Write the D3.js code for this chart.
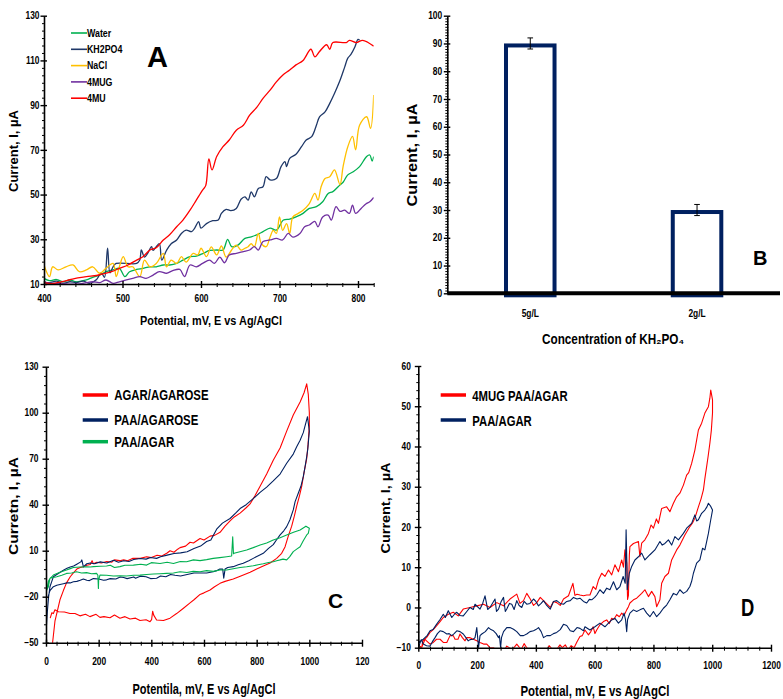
<!DOCTYPE html>
<html>
<head>
<meta charset="utf-8">
<script src="https://cdn.jsdelivr.net/npm/d3@7"></script>
<style>
  body { margin: 0; background: #fff; }
  svg { display: block; }
  text { font-family: "Liberation Sans Narrow", "Arial Narrow", "Liberation Sans", Arial, sans-serif; font-weight: bold; fill: #000; }
  .wide { font-family: "Liberation Sans", Arial, sans-serif; }
</style>
</head>
<body>
<svg id="chart" width="783" height="699"></svg>
<script>
// ---------- Panel A: linear sweeps, Potential (mV) vs Current (µA) ----------
const seriesNamesA = ["Water", "KH2PO4", "NaCl", "4MUG", "4MU"];
const waterA = [[400,12.5],[407,11.5],[416,12],[424,11],[433,11.8],[441,11],[454,11.8],[462,13],[471,14],[479,15.5],[488,16.3],[496,17],[503,13.3],[509,15.5],[518,16.5],[526,17],[535,17.7],[543,17.7],[552,18.5],[560,18.5],[569,19.2],[577,20.7],[586,22.2],[594,22.5],[603,23.7],[611,25],[620,25.2],[628,25.2],[634,30],[639,26.7],[647,27.4],[656,30.4],[664,31.1],[671,32],[679,33.4],[688,35],[696,34.1],[705,38.6],[713,39],[721,40],[730,41.6],[738,43.8],[747,44.6],[755,46.8],[762,50.5],[768,51.3],[777,54.3],[781,55.5],[787,58.8],[794,60.2],[802,62.5],[811,67],[815,67.7],[818,65],[820,67]];
const kh2po4A = [[400,11],[407,10.6],[416,11.3],[424,10.3],[433,11],[441,10.6],[450,11.3],[458,10.3],[467,12],[473,15],[477,13],[481,26],[484,15],[488,17.7],[492,19.2],[518,19.2],[522,20.7],[524,25.2],[528,22],[532,23.7],[537,26.7],[539,25],[543,26.7],[547,28],[550,20.7],[556,25],[562,28],[569,29.7],[575,32.6],[581,34.1],[588,33.4],[592,35],[597,37.9],[600,35],[607,37],[615,38.3],[622,38.6],[626,41.6],[632,43.4],[638,42.8],[645,43.8],[651,47.9],[656,49],[660,47.5],[664,51.2],[668,49],[673,52.7],[679,53.5],[683,58],[688,56.6],[696,57.2],[702,62.5],[707,64.7],[709,62.5],[713,66.2],[721,68],[728,71.4],[734,74.4],[741,75.9],[747,81],[751,84.8],[758,87],[764,90.8],[770,95.2],[777,101],[783,107],[787,111],[791,112.7],[796,116],[800,119.4],[802,119]];
const naclA = [[400,18.5],[407,13.3],[411,17.7],[418,16.3],[428,17.7],[437,18.5],[445,15.5],[454,16.3],[462,17.7],[471,14.8],[479,17],[488,19.2],[492,13.3],[496,17.7],[501,22.2],[507,17.7],[513,17.7],[522,13.3],[528,20.7],[535,17.7],[543,19.2],[552,23.7],[556,17.7],[562,20.7],[569,19.2],[575,22.2],[581,19.8],[590,23.7],[596,23],[600,26],[607,22.2],[613,26.6],[620,23],[626,27],[632,22],[639,25.2],[645,27.4],[651,25.2],[656,26],[660,26.7],[664,28],[668,26.7],[673,32.6],[677,28],[683,26.7],[688,31],[692,34],[696,32.6],[700,40],[704,34],[709,37],[713,32.6],[717,40],[724,41.6],[730,43],[738,46],[745,50.5],[749,47.5],[753,53.5],[758,57.2],[764,58],[770,61],[777,54.5],[781,62.5],[787,71.4],[793,76],[797,70],[802,81],[811,84.8],[816,79.6],[820,94.5]];
const mugA = [[400,10.6],[412,10.3],[428,10],[445,10],[454,10.6],[462,11],[471,10.6],[479,11.8],[488,10.3],[496,11],[505,11.8],[513,12.5],[522,13.3],[530,12.5],[539,14],[547,15.5],[556,14.8],[564,16],[573,16.5],[579,13.3],[586,18.5],[594,17.7],[602,19.2],[611,20.7],[617,19.2],[624,22],[630,19.5],[636,23],[645,23.7],[654,24.5],[662,25.2],[668,26.7],[673,25.2],[679,29],[688,29.7],[696,30.4],[704,29.7],[711,32.6],[717,31],[726,32.6],[732,35.6],[738,36.4],[745,38],[749,35.6],[755,40],[762,40.8],[766,38.6],[772,44.6],[777,42.5],[783,43],[789,41.6],[793,45.3],[797,41.6],[804,43.8],[810,45.8],[815,46.8],[820,48.7]];
const muA = [[400,10.6],[411,10.2],[422,11],[433,11.9],[443,12.7],[454,13.3],[467,13.8],[475,14.5],[486,15.5],[496,17],[507,18.5],[518,20.7],[526,22.2],[535,25.2],[543,26.2],[552,29.7],[560,32],[569,35.6],[577,38.6],[586,43],[594,47.5],[602,52],[606,54],[610,66],[614,61],[620,67],[628,71.4],[636,74.4],[645,78.8],[654,81],[662,85.5],[671,89],[679,93],[688,96.7],[696,100.4],[704,103.4],[713,105.7],[721,108],[730,110],[740,115],[745,111.6],[751,114],[760,117],[764,115],[768,118],[785,118],[789,119],[798,118],[806,119],[820,116.4]];
const yTicksA = [10, 30, 50, 70, 90, 110, 130];
const xTicksA = [400, 500, 600, 700, 800];

// ---------- Panel B: current by KH2PO4 concentration ----------
const concentrationsB = ["5g/L", "2g/L"];
const currentB = [90, 30];
const errorB = [2, 2];
const yTicksB = [0, 10, 20, 30, 40, 50, 60, 70, 80, 90, 100];

// ---------- Panel C: cyclic voltammograms of the gel pairs ----------
const seriesNamesC = ["AGAR/AGAROSE", "PAA/AGAROSE", "PAA/AGAR"];
const agarAgaroseC = [[18,-58],[25,-50],[34,-36],[45,-28],[53,-22],[66,-16],[78,-11],[92,-7],[104,-4.5],[117,-2],[130,-1],[142,-0.5],[155,0.5],[168,1],[175,3.5],[180,1.5],[193,2.5],[210,2],[231,3],[250,2.5],[260,4],[280,3.5],[295,4],[310,3.5],[330,5],[358,5],[382,6],[400,5.5],[422,7],[440,6.5],[460,8.5],[471,10],[486,9],[500,11],[509,12],[530,13],[547,15.5],[560,15],[585,18],[600,17],[623,19.5],[640,20],[661,22],[680,26],[699,29.5],[715,32],[737,34.5],[760,38],[775,40.5],[794,46],[813,52],[838,60],[863,69],[889,77],[914,88],[939,98.5],[965,107],[980,113],[990,118.8],
  [996,112],[1000,100],[1000,91],[995,79],[990,70],[980,61],[971,52],[962,45.5],[952,39],[943,32.5],[933,26],[920,19.5],[908,12.6],[895,8.3],[876,5],[851,2],[825,0],[800,-2],[775,-4],[740,-6.5],[711,-8.5],[680,-10],[661,-11.3],[640,-13.5],[623,-15.6],[600,-17.5],[585,-18.5],[562,-22],[547,-24],[522,-27.5],[496,-31],[471,-34],[446,-35.5],[420,-35.2],[409,-32],[405,-29.5],[401,-35],[395,-36.3],[380,-35],[357,-35.5],[340,-34],[319,-34.5],[300,-33],[281,-34],[260,-32],[243,-33.7],[220,-33],[205,-33.5],[190,-31.5],[167,-33],[150,-31.5],[129,-32.5],[110,-31],[91,-31],[70,-30],[47,-29.8],[34,-28.5],[28,-31],[22,-30.5],[16,-34]];
const paaAgaroseC = [[0,-44],[5,-30],[10,-20],[15,-13.5],[22,-10],[28,-7],[45,-5],[66,-2.7],[80,-1.5],[92,-0.6],[105,0],[117,1.2],[132,2.7],[136,4],[142,-0.6],[155,1.5],[168,2],[185,1.5],[206,2.7],[231,2],[257,3.8],[275,2.5],[295,3.4],[315,3],[333,4.3],[358,4.9],[380,4.5],[397,5.6],[420,5],[435,6],[460,7.1],[486,8.2],[511,8.6],[536,9.3],[562,11.4],[587,13],[610,16],[626,17],[648,24],[670,28],[699,31],[720,34.5],[737,37.5],[760,40],[787,44],[813,48],[838,51.5],[863,55.5],[889,60],[914,67],[939,73],[952,77.8],[965,82],[977,87],[993,97.4],
  [1000,88],[998,84],[994,76],[990,71.3],[984,65],[977,58.3],[968,52],[958,47.5],[946,42],[939,36.6],[926,30],[914,25.7],[903,23],[889,20.3],[875,17],[863,14],[845,11.5],[825,8.3],[810,7],[787,5],[770,3.5],[749,1.8],[730,0.8],[711,-0.4],[690,-1],[680,-2],[675,-7.9],[671,-2],[660,-2],[648,-3],[635,-3.7],[610,-4.5],[587,-4.5],[562,-4.5],[536,-5.5],[511,-6.5],[490,-6],[473,-5.5],[455,-7],[435,-6.5],[420,-8],[397,-8.2],[380,-7],[358,-6.6],[340,-8],[333,-7.1],[308,-8.2],[295,-7.5],[282,-7.1],[265,-8.5],[244,-8.2],[230,-9],[219,-9.3],[200,-8.5],[180,-8.2],[165,-9.5],[155,-9.3],[142,-8.5],[130,-9.3],[117,-10],[104,-10.3],[92,-11],[79,-11],[66,-11.5],[53,-12],[41,-12.5],[28,-13.5],[15,-16],[8,-20]];
const paaAgarC = [[0,-17],[3,-15.5],[9,-10],[15,-8.2],[28,-5.9],[53,-4],[78,-2.6],[92,-1.7],[104,-1],[130,-0.6],[155,-0.5],[168,-0.6],[180,-0.4],[206,-0.1],[230,0],[244,0.5],[260,-1],[281,-0.4],[300,0.5],[332,0.6],[360,1.2],[382,0.6],[400,2.2],[433,1.7],[460,2.5],[484,1.7],[510,3],[534,2.8],[560,4],[585,3.5],[610,4.2],[635,5],[660,5.5],[686,6.1],[705,6.5],[709,19.1],[712,8],[714,8.3],[740,9.5],[762,10.5],[787,12],[813,13.7],[838,15],[863,17],[889,18.5],[914,20.3],[940,22],[965,23.5],[987,26],[1000,24.6],
  [996,21.3],[990,20.3],[977,16.5],[965,12.6],[952,11],[939,9.4],[925,6],[914,4],[900,4.5],[889,4],[876,3.5],[863,2.8],[845,2.3],[825,1.5],[805,0.8],[787,0.2],[762,-0.5],[737,-1],[711,-1.8],[686,-2.6],[661,-2.6],[635,-3.5],[610,-3],[585,-3.7],[559,-3.5],[535,-4.2],[509,-3.7],[484,-4.5],[458,-4.8],[433,-5],[408,-5.2],[382,-5.5],[357,-5.9],[332,-6],[306,-6.5],[281,-6.3],[256,-6.5],[230,-6],[205,-5.9],[200,-9],[199,-14.6],[197,-6],[192,-4.8],[173,-5],[154,-4.3],[135,-4.5],[116,-3.7],[97,-4.5],[78,-4.8],[60,-6],[41,-7],[28,-7.5],[15,-8],[9,-13.5],[3,-15.7]];
const yTicksC = [-50, -20, 10, 40, 70, 100, 130];
const xTicksC = [0, 200, 400, 600, 800, 1000, 1200];
const xTickLabelsC = ["0", "200", "400", "600", "800", "1000", "120"];

// ---------- Panel D: cyclic voltammograms with and without 4MUG ----------
const seriesNamesD = ["4MUG PAA/AGAR", "PAA/AGAR"];
const mugPaaAgarD = [[11,-10.5],[15,-8.3],[28,-7.5],[40,-6.2],[51,-5.5],[62,-4.6],[74,-3.5],[85,-2.5],[102,-1.7],[119,-1.2],[136,-2.1],[153,-0.4],[176,0],[199,0.4],[222,0.8],[244,0],[267,1.2],[290,0.4],[312,2.1],[335,3.3],[346,1],[358,1.7],[369,3.5],[381,2.1],[392,0.5],[403,1.2],[415,2.5],[426,1.7],[438,0.8],[449,0],[460,1.5],[471,1.2],[483,0.5],[494,2.1],[511,2.9],[526,6],[533,3],[540,3.3],[550,3.1],[562,2.9],[573,3.1],[584,3.1],[595,5.2],[604,4.5],[613,6.8],[624,8.5],[635,7.7],[647,9.3],[658,8.1],[669,10.6],[681,8.9],[692,11.8],[698,10],[703,14.3],[709,11],[712,2],[715,3],[718,13],[720,15.1],[732,15.9],[749,16.4],[754,12.6],[760,16],[771,16.8],[783,18.4],[792,20.5],[800,19.7],[810,22],[817,20.9],[828,24.6],[845,25],[856,23.8],[868,25.9],[879,27.5],[890,28.4],[902,30.4],[913,32.9],[920,33.5],[930,35.8],[941,39.1],[953,44.1],[964,45.8],[975,48.3],[987,49.9],[992,52],[995,54],[1001,51.6],
  [1001,48.3],[997,44],[992,40.8],[986,37.5],[981,35],[975,32],[970,29.2],[962,27],[953,25],[941,22.2],[933,21],[924,20.1],[907,18],[890,15.5],[879,14.3],[870,13],[862,11.8],[851,8.5],[839,7.7],[828,6],[822,1.9],[811,0.2],[805,2.7],[794,4],[783,2.7],[771,4.4],[760,3.5],[743,2.3],[732,1.9],[720,1.1],[715,0.2],[709,-0.6],[700,-2],[692,-1.4],[684,-2.3],[675,-1.8],[665,-3],[658,-2.7],[650,-4],[641,-3.1],[630,-3.5],[618,-4.3],[607,-5.6],[601,-6.5],[595,-4.8],[587,-6],[579,-6.8],[567,-5.6],[558,-7],[550,-7.2],[540,-8.5],[530,-10],[520,-9.5],[510,-10.5],[500,-9.3],[490,-10],[482,-9.3],[470,-10.5],[455,-10.3],[445,-9.5],[437,-11],[420,-12],[405,-11],[395,-12],[369,-10],[360,-9],[350,-10.5],[335,-9.1],[320,-10.5],[301,-9.6],[290,-11],[270,-11],[256,-10],[244,-10],[233,-9.1],[222,-9.1],[210,-8.7],[199,-8.3],[187,-7.9],[176,-7.5],[165,-7.5],[159,-8.3],[150,-7.5],[142,-6.6],[135,-7.9],[125,-7.9],[119,-7],[108,-7],[97,-8.7],[85,-8.7],[74,-7.9],[62,-7.9],[51,-8.7],[40,-9.1],[28,-8.3],[23,-7.9],[11,-10],[6,-9.6]];
const paaAgarD = [[0,-8.7],[17,-7.9],[30,-7],[40,-5.8],[50,-5.5],[62,-4.2],[74,-3],[85,-1.7],[92,-2.5],[102,-0.8],[114,-2.5],[125,-1.5],[131,-1.2],[142,-2],[153,-2.1],[165,-1],[176,0],[187,-0.5],[193,0.8],[210,-0.4],[219,1],[227,2.9],[236,-0.5],[244,0],[252,1],[261,2.1],[266,-1],[273,-0.4],[282,1.5],[290,2.5],[296,-1],[301,-0.4],[310,1],[318,0.8],[326,-0.5],[335,1.7],[343,0.5],[352,0],[360,1.5],[369,0.8],[380,1],[392,2.1],[400,1.5],[409,0.4],[418,1],[426,1.7],[437,0.5],[449,-0.4],[460,1.5],[471,1.7],[483,1],[494,0.8],[505,1.5],[517,1.7],[528,2.5],[540,2.1],[550,2.3],[562,1.5],[573,1.1],[582,2],[590,1.9],[600,2.5],[607,3.1],[618,4.4],[630,3.5],[641,4.8],[652,4.4],[664,6.4],[675,4.4],[686,5.2],[697,7.7],[704,6],[707,19.3],[710,10],[711,4.4],[718,8.5],[726,10.2],[737,11.8],[749,12.6],[760,13.5],[771,11.8],[788,13.1],[805,14.3],[822,16.4],[830,15.5],[839,15.9],[851,16.8],[862,15.5],[873,17.6],[885,16.8],[902,18.4],[913,19.7],[930,20.9],[941,23],[947,21.5],[953,21.8],[964,23.4],[975,24.2],[982,25],[987,25.9],[995,25.1],[1001,24.2],
  [995,21.8],[987,18.4],[980,16],[975,14.3],[967,14.7],[958,11.8],[947,11],[936,8.5],[930,6.5],[924,5.2],[913,4],[902,3.5],[890,4.4],[879,3.1],[868,3.5],[856,1.9],[845,0.6],[834,-0.2],[822,-1.4],[811,-2.3],[800,-1],[788,-2.3],[777,-1.4],[766,-0.2],[754,-0.6],[743,-1],[732,-0.6],[720,-1.4],[712,-3],[709,-6],[705,-3],[700,-1.4],[692,-3.1],[681,-3.9],[669,-2.7],[658,-3.1],[647,-3.9],[635,-4.8],[618,-3.9],[601,-4.8],[584,-5.6],[567,-4.8],[562,-5.8],[550,-5.2],[540,-5],[528,-6],[517,-5.8],[505,-4.5],[494,-4.2],[483,-5.5],[471,-6.2],[460,-6.5],[449,-7],[437,-7],[426,-7.5],[418,-6],[409,-5],[400,-5.5],[392,-5.8],[380,-6],[369,-6.6],[358,-7],[347,-7],[335,-6],[324,-5.4],[312,-5],[301,-5],[290,-6],[283,-7.5],[280,-10],[276,-7],[273,-7.5],[265,-6.5],[256,-5.8],[247,-5.5],[239,-5],[228,-6],[216,-6.6],[210,-7],[205,-10],[199,-5],[193,-7.5],[187,-7.9],[176,-8],[170,-8.3],[162,-7.5],[153,-6.6],[142,-6],[131,-5.8],[122,-6.5],[114,-7],[105,-6.5],[97,-6.6],[85,-6],[74,-5.8],[65,-6.5],[57,-7.5],[48,-8.5],[40,-9.6],[28,-9.5],[17,-9.1],[10,-8],[0,-10]];
const yTicksD = [-10, 0, 10, 20, 30, 40, 50, 60];
const xTicksD = [0, 200, 400, 600, 800, 1000, 1200];

// ---------- styling ----------
const RED = "#ff0000", NAVY = "#1f3868", DARKBLUE = "#002060", GREEN = "#00b050", GOLD = "#ffc000", PURPLE = "#7030a0";
const svg = d3.select("#chart");

function range(a, b, step) { return d3.range(a, b + step / 2, step); }

// condense labels horizontally (the labels use a narrow bold face)
function condense(sel, k) {
  sel.each(function () {
    const w = this.getComputedTextLength();
    if (w > 0) d3.select(this).attr("textLength", w * k).attr("lengthAdjust", "spacingAndGlyphs");
  });
}

function leftAxis(y, x0, majors, minorStep, fs, pad, fmt) {
  const dom = y.domain();
  const minors = range(dom[0], dom[1], minorStep).filter(v => !majors.includes(v));
  svg.append("g").attr("transform", `translate(${x0},0)`)
    .call(d3.axisLeft(y).tickValues(minors).tickSize(2).tickSizeOuter(0).tickFormat(""))
    .call(g => g.select(".domain").remove())
    .call(g => g.selectAll(".tick line").attr("x1", 1).attr("stroke-width", 1));
  svg.append("g").attr("transform", `translate(${x0},0)`).attr("font-size", fs)
    .call(d3.axisLeft(y).tickValues(majors).tickSize(3.5).tickSizeOuter(0).tickPadding(pad).tickFormat(fmt || d3.format("d")))
    .call(g => g.select(".domain").attr("stroke-width", 1.6))
    .call(g => g.selectAll(".tick line").attr("x1", 3).attr("stroke-width", 1.4))
    .call(g => condense(g.selectAll("text"), 0.84));
}

function bottomAxis(x, y0, majors, minorStep, fs, pad, fmt) {
  const dom = x.domain();
  const minors = range(dom[0], dom[1], minorStep).filter(v => !majors.includes(v));
  svg.append("g").attr("transform", `translate(0,${y0})`)
    .call(d3.axisBottom(x).tickValues(minors).tickSize(3).tickSizeOuter(0).tickFormat(""))
    .call(g => g.select(".domain").remove())
    .call(g => g.selectAll(".tick line").attr("y1", -1).attr("stroke-width", 1));
  svg.append("g").attr("transform", `translate(0,${y0})`).attr("font-size", fs)
    .call(d3.axisBottom(x).tickValues(majors).tickSize(4).tickSizeOuter(0).tickPadding(pad).tickFormat(fmt || d3.format("d")))
    .call(g => g.select(".domain").attr("stroke-width", 1.6))
    .call(g => g.selectAll(".tick line").attr("y1", -3).attr("stroke-width", 1.4))
    .call(g => condense(g.selectAll("text"), 0.84));
}

function clipRect(id, x, y) {
  const [x0, x1] = x.range(), [y0, y1] = y.range();
  svg.append("clipPath").attr("id", id).append("rect")
    .attr("x", x0).attr("y", Math.min(y0, y1)).attr("width", x1 - x0).attr("height", Math.abs(y0 - y1));
  return `url(#${id})`;
}

function title(txt, x, y, fs, len, rotate, cls) {
  const t = svg.append("text").text(txt).attr("font-size", fs).attr("text-anchor", "middle");
  if (cls) t.attr("class", cls);
  if (len) t.attr("textLength", len).attr("lengthAdjust", "spacingAndGlyphs");
  if (rotate) t.attr("transform", `translate(${x},${y}) rotate(-90)`);
  else t.attr("x", x).attr("y", y);
  return t;
}

// ---------- Panel A ----------
{
  const x = d3.scaleLinear().domain([400, 820]).range([44, 373.7]);
  const y = d3.scaleLinear().domain([10, 130]).range([284, 15.7]);
  const clip = clipRect("clipA", x, y);
  const line = d3.line().x(d => x(d[0])).y(d => y(d[1])).curve(d3.curveCatmullRom.alpha(0.5));
  const data = [waterA, kh2po4A, naclA, mugA, muA];
  const colors = [GREEN, NAVY, GOLD, PURPLE, RED];
  svg.append("g").attr("clip-path", clip).selectAll("path").data(data).join("path")
    .attr("d", line).attr("fill", "none").attr("stroke", (d, i) => colors[i]).attr("stroke-width", 1.3);
  leftAxis(y, 44, yTicksA, 20 / 6, 11, 1);
  bottomAxis(x, 284, xTicksA, 20, 11, 7);
  // legend
  const lg = svg.append("g").selectAll("g").data(seriesNamesA).join("g")
    .attr("transform", (d, i) => `translate(71,${33 + i * 16.3})`);
  lg.append("line").attr("x1", 0).attr("x2", 16).attr("stroke", (d, i) => colors[i]).attr("stroke-width", 1.6);
  lg.append("text").attr("x", 16).attr("y", 3.7).attr("font-size", 10.5).text(d => d)
    .call(s => condense(s, 0.84));
  svg.append("text").attr("class", "wide").attr("x", 157.5).attr("y", 67).attr("text-anchor", "middle").attr("font-size", 29).text("A");
  title("Potential, mV, E vs Ag/AgCl", 211, 325, 12.5, 142);
  title("Current, I, µA", 17.5, 151, 12, 82, true, "wide");
}

// ---------- Panel B ----------
{
  const x = d3.scaleBand().domain(concentrationsB).range([447.3, 780]).paddingInner(0.685).paddingOuter(0.34);
  const y = d3.scaleLinear().domain([0, 100]).range([293.3, 15.7]);
  const sw = 4;
  svg.append("g").selectAll("rect").data(currentB).join("rect")
    .attr("x", (d, i) => x(concentrationsB[i]) + sw / 2).attr("width", x.bandwidth() - sw)
    .attr("y", d => y(d) + sw / 2).attr("height", d => y(0) - y(d))
    .attr("fill", "#fff").attr("stroke", DARKBLUE).attr("stroke-width", sw);
  const eb = svg.append("g").selectAll("g").data(currentB).join("g")
    .attr("transform", (d, i) => `translate(${x(concentrationsB[i]) + x.bandwidth() / 2},0)`);
  eb.append("line").attr("y1", (d, i) => y(d + errorB[i])).attr("y2", (d, i) => y(d - errorB[i])).attr("stroke", "#000").attr("stroke-width", 1);
  eb.append("line").attr("x1", -2.8).attr("x2", 2.8).attr("y1", (d, i) => y(d + errorB[i])).attr("y2", (d, i) => y(d + errorB[i])).attr("stroke", "#000").attr("stroke-width", 1);
  eb.append("line").attr("x1", -2.8).attr("x2", 2.8).attr("y1", (d, i) => y(d - errorB[i])).attr("y2", (d, i) => y(d - errorB[i])).attr("stroke", "#000").attr("stroke-width", 1);
  leftAxis(y, 447.3, yTicksB, 1, 11, 1.6);
  svg.append("g").attr("transform", `translate(0,${y(0)})`).attr("font-size", 10.5)
    .call(d3.axisBottom(x).tickSize(0).tickSizeOuter(0).tickPadding(17))
    .call(g => g.select(".domain").attr("stroke-width", 4).attr("d", `M${x.range()[0]},0H${x.range()[1]}`))
    .call(g => condense(g.selectAll("text"), 0.84));
  svg.append("text").attr("class", "wide").attr("x", 753).attr("y", 265).attr("font-size", 20).text("B");
  title("Concentration of KH₂PO₄", 613, 344, 14, 142);
  title("Current,  I, µA", 417, 155, 14, 103, true, "wide");
}

// ---------- Panel C ----------
{
  const x = d3.scaleLinear().domain([0, 1200]).range([46, 362]);
  const y = d3.scaleLinear().domain([-50, 130]).range([642.7, 366.7]);
  const clip = clipRect("clipC", x, y);
  const line = d3.line().x(d => x(d[0])).y(d => y(d[1]));
  const data = [agarAgaroseC, paaAgaroseC, paaAgarC];
  const colors = [RED, DARKBLUE, GREEN];
  svg.append("g").attr("clip-path", clip).selectAll("path").data(data).join("path")
    .attr("d", line).attr("fill", "none").attr("stroke", (d, i) => colors[i]).attr("stroke-width", 1.1).attr("stroke-linejoin", "round");
  leftAxis(y, 46, yTicksC, 6, 12, 4);
  bottomAxis(x, 642.7, xTicksC, 40, 12, 11, (d, i) => xTickLabelsC[i]);
  const ly = [395, 420, 441.7];
  const lg = svg.append("g").selectAll("g").data(seriesNamesC).join("g")
    .attr("transform", (d, i) => `translate(82.7,${ly[i]})`);
  lg.append("line").attr("x1", 0).attr("x2", 25.3).attr("stroke", (d, i) => colors[i]).attr("stroke-width", 3.5);
  lg.append("text").attr("x", 31.5).attr("y", 5.2).attr("font-size", 15).text(d => d)
    .call(s => condense(s, 0.76));
  svg.append("text").attr("class", "wide").attr("x", 328).attr("y", 608.3).attr("font-size", 21).text("C");
  title("Potentila, mV, E vs Ag/AgCl", 204, 694, 15, 143);
  title("Curretn, I, µA", 17.5, 506, 13, 98, true, "wide");
}

// ---------- Panel D ----------
{
  const x = d3.scaleLinear().domain([0, 1200]).range([418.3, 771]);
  const y = d3.scaleLinear().domain([-10, 60]).range([647.7, 366]);
  const clip = clipRect("clipD", x, y);
  const line = d3.line().x(d => x(d[0])).y(d => y(d[1]));
  const data = [mugPaaAgarD, paaAgarD];
  const colors = [RED, DARKBLUE];
  svg.append("g").attr("clip-path", clip).selectAll("path").data(data).join("path")
    .attr("d", line).attr("fill", "none").attr("stroke", (d, i) => colors[i]).attr("stroke-width", 1.1).attr("stroke-linejoin", "round");
  leftAxis(y, 418.3, yTicksD, 2, 12, 4);
  bottomAxis(x, 647.7, xTicksD, 40, 12, 10);
  const ly = [395, 420];
  const lg = svg.append("g").selectAll("g").data(seriesNamesD).join("g")
    .attr("transform", (d, i) => `translate(440.7,${ly[i]})`);
  lg.append("line").attr("x1", 0).attr("x2", 25.3).attr("stroke", (d, i) => colors[i]).attr("stroke-width", 3.5);
  lg.append("text").attr("x", 31.6).attr("y", 5.5).attr("font-size", 14.5).text(d => d)
    .call(s => condense(s, 0.78));
  svg.append("text").attr("x", 741).attr("y", 616).attr("font-size", 23).text("D")
    .call(s => condense(s, 0.8));
  title("Potential, mV, E vs Ag/AgCl", 595, 695.5, 15, 149);
  title("Current, I, µA", 390, 508, 13, 91, true, "wide");
}
</script>
</body>
</html>
